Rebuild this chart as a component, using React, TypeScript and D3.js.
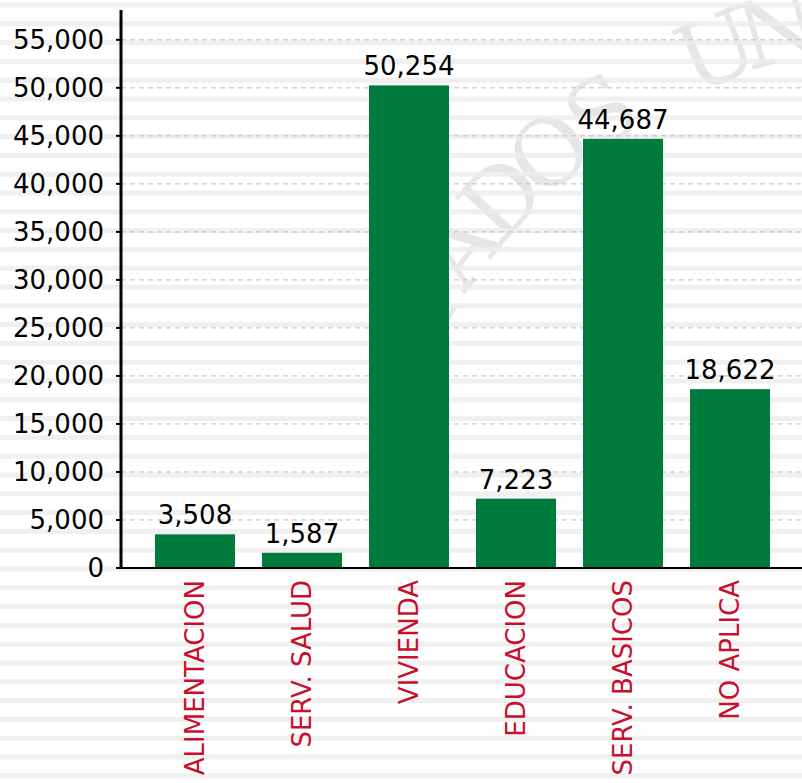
import React from 'react';
import * as d3 from 'd3';

const categories = ['ALIMENTACION', 'SERV. SALUD', 'VIVIENDA', 'EDUCACION', 'SERV. BASICOS', 'NO APLICA'];
const values = [3508, 1587, 50254, 7223, 44687, 18622];
const yTicks = [0, 5000, 10000, 15000, 20000, 25000, 30000, 35000, 40000, 45000, 50000, 55000];
const watermark = 'ESTADOS UN';

const width = 802;
const height = 783;
const axisX = 121;
const baseY = 568;
const font = 'DejaVu Sans, sans-serif';

export default function App() {
  const x = d3.scaleBand<string>()
    .domain(categories)
    .range([141.5, 783.5])
    .paddingInner(0.2523)
    .paddingOuter(0.126);

  const y = d3.scaleLinear()
    .domain([0, 58000])
    .range([baseY, 11]);

  const fmt = d3.format(',');
  const stripes = d3.range(0, 42).map(i => 5 + i * 18.8);

  // faint seal lettering along an arc in the background
  const arc = (i: number) => {
    const deg = 198.9 + 6.1 * i;
    const a = deg * Math.PI / 180;
    return { cx: 950 + 615 * Math.cos(a), cy: 620 + 615 * Math.sin(a), deg: deg + 90 };
  };

  return (
    <svg width={width} height={height}
      style={{ position: 'absolute', left: 0, top: 0, background: '#fff' }}>
      {watermark.split('').map((ch, i) => {
        // first letters sit behind the tall bar, skip them
        if (ch === ' ' || i < 2) return null;
        const p = arc(i);
        return (
          <text key={'w' + i} transform={`translate(${p.cx},${p.cy}) rotate(${p.deg})`}
            textAnchor="middle" dominantBaseline="central"
            fontFamily="DejaVu Serif, serif" fontSize={92} fill="#e6e6e6">{ch}</text>
        );
      })}
      {stripes.map((s, i) => (
        <rect key={i} x={0} y={s - 2.5} width={width} height={5} fill="#ececec" opacity={0.8} />
      ))}

      {/* grid */}
      {yTicks.map(t => (
        <line key={t} x1={axisX} x2={width} y1={y(t)} y2={y(t)}
          stroke="#bdbdbd" strokeWidth={1} strokeDasharray="5,4" />
      ))}

      {/* bars */}
      {values.map((v, i) => (
        <rect key={categories[i]} x={x(categories[i])} y={y(v)}
          width={x.bandwidth()} height={baseY - y(v)} fill="#007a3d" />
      ))}

      {/* value labels */}
      {values.map((v, i) => (
        <text key={'l' + i} x={x(categories[i])! + x.bandwidth() / 2} y={y(v) - 10}
          textAnchor="middle" fontFamily={font} fontSize={26} fill="#000">{fmt(v)}</text>
      ))}

      {/* y axis */}
      <line x1={axisX} x2={axisX} y1={10} y2={baseY + 1} stroke="#000" strokeWidth={3} />
      <line x1={axisX - 5} x2={width} y1={baseY} y2={baseY} stroke="#000" strokeWidth={2} />
      {yTicks.map(t => (
        <g key={'t' + t}>
          <line x1={axisX - 5} x2={axisX} y1={y(t)} y2={y(t)} stroke="#000" strokeWidth={2} />
          <text x={104} y={y(t)} dy="0.36em" textAnchor="end"
            fontFamily={font} fontSize={26} fill="#000">{fmt(t)}</text>
        </g>
      ))}

      {/* x labels */}
      {categories.map(c => {
        const cx = x(c)! + x.bandwidth() / 2;
        return (
          <text key={'x' + c} transform={`translate(${cx},580) rotate(-90)`}
            textAnchor="end" dy="0.36em" fontFamily={font} fontSize={26} fill="#c8102e">{c}</text>
        );
      })}
    </svg>
  );
}
